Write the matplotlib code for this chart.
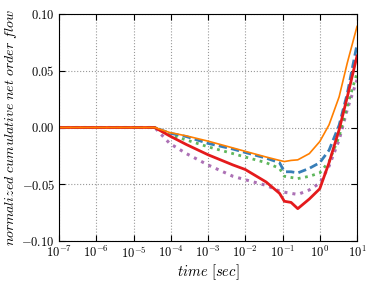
import matplotlib
matplotlib.use('Agg')
import matplotlib.pyplot as plt
import numpy as np

plt.rcParams['mathtext.fontset'] = 'cm'
plt.rcParams['font.family'] = 'cmr10'
plt.rcParams['axes.formatter.use_mathtext'] = True

# log10(time) sample points, shared by all series
LOG_T = [-7.0, -6.0, -5.0, -4.43, -4.03, -3.58, -3.0, -2.33, -2.0, -1.44, -1.08,
         -0.95, -0.77, -0.59, -0.28, 0.0, 0.25, 0.52, 0.74, 1.0]

orange = [0, 0, 0, 0, -0.0044, -0.0074, -0.012, -0.018, -0.021, -0.026, -0.029,
          -0.030, -0.029, -0.0285, -0.023, -0.0124, 0.0024, 0.027, 0.057, 0.089]
blue = [0, 0, 0, 0, -0.005, -0.008, -0.014, -0.019, -0.022, -0.027, -0.031,
        -0.039, -0.039, -0.040, -0.036, -0.031, -0.020, 0.002, 0.030, 0.073]
green = [0, 0, 0, 0, -0.0065, -0.011, -0.017, -0.023, -0.026, -0.031, -0.036,
         -0.043, -0.044, -0.045, -0.043, -0.040, -0.030, -0.008, 0.019, 0.048]
red = [0, 0, 0, 0, -0.0074, -0.015, -0.024, -0.033, -0.037, -0.048, -0.058,
       -0.065, -0.066, -0.0715, -0.063, -0.054, -0.031, -0.002, 0.027, 0.063]
purple = [0, 0, 0, 0, -0.014, -0.023, -0.033, -0.043, -0.046, -0.051, -0.056,
          -0.057, -0.058, -0.059, -0.055, -0.049, -0.034, -0.011, 0.016, 0.042]

t = 10.0 ** np.array(LOG_T)

fig = plt.figure(figsize=(3.74, 2.82), dpi=100)
ax = fig.add_axes([59 / 374, 1 - 241 / 282, 298 / 374, 227 / 282])

ax.plot(t, purple, color='#984ea3', lw=2.2, ls=':', alpha=0.8)
ax.plot(t, green, color='#4daf4a', lw=2.0, ls=':', alpha=0.9)
ax.plot(t, blue, color='#377eb8', lw=2.0, ls='--', dashes=(3, 1.5))
ax.plot(t, red, color='#e41a1c', lw=2.0)
ax.plot(t, orange, color='#ff7f00', lw=1.2)

ax.set_xscale('log')
ax.set_xlim(1e-7, 10)
ax.set_ylim(-0.1, 0.1)
ax.set_xticks([10.0 ** k for k in range(-7, 2)])
ax.minorticks_off()
ax.set_yticks([-0.1, -0.05, 0, 0.05, 0.1])
ax.set_yticklabels(['$-0.10$', '$-0.05$', '$0.00$', '$0.05$', '$0.10$'])
ax.tick_params(direction='in', top=True, right=True, labelsize=9, length=4, pad=3)
ax.grid(True, color='#999999', ls=':', lw=0.8)

ax.set_xlabel(r'$time\ [sec]$', fontsize=10.5, labelpad=1)
ax.set_ylabel(r'$normalized\ cumulative\ net\ order\ flow$', fontsize=10, labelpad=2)

fig.savefig('out.png', dpi=100)
